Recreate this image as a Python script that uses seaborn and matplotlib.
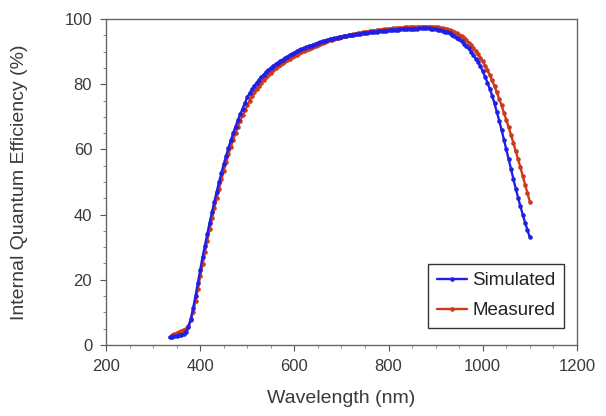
import numpy as np
import pandas as pd
import seaborn as sns
import matplotlib.pyplot as plt
from matplotlib.ticker import MultipleLocator

# wavelength grids (nm), 5 nm steps
wl_sim = np.arange(335, 1101, 5)
wl_mea = np.arange(340, 1101, 5)

# internal quantum efficiency (%)
simulated = [2.3, 2.5, 2.6, 2.8, 2.9, 3.0, 3.3, 4.0, 5.5, 8.0,
             11.3, 15.0, 19.0, 23.0, 27.0, 30.5, 34.0, 37.5, 40.8, 44.0,
             47.0, 50.0, 52.8, 55.5, 58.0, 60.5, 62.8, 65.0, 67.0, 69.0,
             70.8, 72.5, 74.3, 76.0, 77.3, 78.5, 79.5, 80.5, 81.4, 82.2,
             83.0, 83.7, 84.4, 85.0, 85.6, 86.1, 86.6, 87.1, 87.6, 88.0,
             88.5, 88.9, 89.3, 89.7, 90.1, 90.4, 90.7, 91.0, 91.3, 91.6,
             91.9, 92.2, 92.5, 92.7, 93.0, 93.2, 93.4, 93.6, 93.8, 94.0,
             94.2, 94.3, 94.5, 94.6, 94.8, 94.9, 95.0, 95.1, 95.2, 95.3,
             95.4, 95.5, 95.6, 95.7, 95.8, 95.9, 96.0, 96.1, 96.2, 96.3,
             96.35, 96.4, 96.5, 96.6, 96.65, 96.7, 96.75, 96.8, 96.85, 96.9,
             96.95, 97.0, 97.05, 97.1, 97.1, 97.1, 97.15, 97.2, 97.2, 97.2,
             97.15, 97.1, 97.0, 96.9, 96.8, 96.6, 96.4, 96.2, 95.9, 95.6,
             95.2, 94.8, 94.3, 93.8, 93.2, 92.5, 91.8, 91.0, 90.0, 89.0,
             87.9, 86.8, 85.5, 84.0, 82.3, 80.5, 78.6, 76.5, 74.1, 71.5,
             68.8, 66.0, 63.0, 60.0, 57.0, 54.0, 51.0, 48.0, 45.2, 42.5,
             40.0, 37.5, 35.2, 33.0]

measured = [3.0, 3.2, 3.5, 3.9, 4.3, 4.7, 5.0, 5.8, 7.5, 10.2,
            13.5, 17.2, 21.0, 24.8, 28.5, 32.0, 35.5, 38.8, 42.0, 45.0,
            48.0, 50.8, 53.5, 56.0, 58.5, 60.8, 63.0, 65.0, 67.0, 68.8,
            70.5, 72.0, 73.5, 75.0, 76.3, 77.5, 78.6, 79.6, 80.5, 81.4,
            82.2, 82.9, 83.6, 84.3, 84.9, 85.5, 86.0, 86.5, 87.0, 87.5,
            87.9, 88.3, 88.7, 89.1, 89.5, 89.9, 90.2, 90.6, 90.9, 91.2,
            91.5, 91.8, 92.1, 92.4, 92.7, 92.95, 93.2, 93.45, 93.7, 93.9,
            94.1, 94.3, 94.5, 94.7, 94.9, 95.05, 95.2, 95.35, 95.5, 95.65,
            95.8, 95.9, 96.0, 96.15, 96.3, 96.4, 96.5, 96.6, 96.7, 96.8,
            96.9, 96.95, 97.0, 97.1, 97.2, 97.25, 97.3, 97.35, 97.4, 97.45,
            97.5, 97.55, 97.6, 97.6, 97.6, 97.65, 97.7, 97.7, 97.7, 97.7,
            97.7, 97.65, 97.6, 97.5, 97.4, 97.25, 97.1, 96.85, 96.6, 96.3,
            96.0, 95.6, 95.2, 94.7, 94.1, 93.5, 92.8, 92.0, 91.1, 90.2,
            89.2, 88.1, 87.0, 85.7, 84.3, 82.8, 81.2, 79.4, 77.5, 75.5,
            73.5, 71.3, 69.0, 66.8, 64.5, 62.0, 59.5, 57.0, 54.5, 51.8,
            49.0, 46.5, 44.0]

df = pd.concat([
    pd.DataFrame({'wl': wl_mea, 'iqe': measured, 'series': 'Measured'}),
    pd.DataFrame({'wl': wl_sim, 'iqe': simulated, 'series': 'Simulated'}),
])

sns.set_theme(style='ticks')
plt.rcParams['font.family'] = ['Liberation Sans', 'DejaVu Sans']

fig = plt.figure(figsize=(6.06, 4.16), dpi=100)
ax = fig.add_axes([0.175, 0.171, 0.777, 0.783])

pal = {'Simulated': '#1f1fe6', 'Measured': '#cc3a1a'}
ms, lw = 3.3, 1.7
sns.lineplot(data=df, x='wl', y='iqe', hue='series', hue_order=['Measured', 'Simulated'],
             palette=pal, marker='o', markersize=ms, markeredgewidth=0, linewidth=lw,
             ax=ax, legend=False, sort=False)

ax.set_xlim(200, 1200)
ax.set_ylim(0, 100)
ax.xaxis.set_major_locator(MultipleLocator(200))
ax.xaxis.set_minor_locator(MultipleLocator(50))
ax.yaxis.set_major_locator(MultipleLocator(20))
ax.yaxis.set_minor_locator(MultipleLocator(5))
ax.tick_params(which='major', length=4, width=0.8, colors='#555555', labelsize=12,
               labelcolor='#3a3a3a', pad=6)
ax.tick_params(which='minor', length=2, width=0.6, colors='#777777')
for s in ax.spines.values():
    s.set_visible(True)
    s.set_color('#666666')
    s.set_linewidth(1.0)

ax.set_xlabel('Wavelength (nm)', fontsize=14, color='#3a3a3a', labelpad=12)
ax.set_ylabel('Internal Quantum Efficiency (%)', fontsize=14, color='#3a3a3a', labelpad=26)

h_sim, = ax.plot([], [], color=pal['Simulated'], marker='o', markersize=ms, markeredgewidth=0, lw=lw)
h_mea, = ax.plot([], [], color=pal['Measured'], marker='o', markersize=ms, markeredgewidth=0, lw=lw)
leg = ax.legend([h_sim, h_mea], ['Simulated', 'Measured'], loc='lower right',
                bbox_to_anchor=(0.985, 0.035), fontsize=13.5, fancybox=False, framealpha=1,
                handlelength=1.6, handletextpad=0.3, borderpad=0.45, labelspacing=0.7,
                borderaxespad=0.3)
leg.get_frame().set_edgecolor('#333333')
leg.get_frame().set_linewidth(1.0)
for t in leg.get_texts():
    t.set_color('#222222')

fig.savefig('out.png', dpi=100)
